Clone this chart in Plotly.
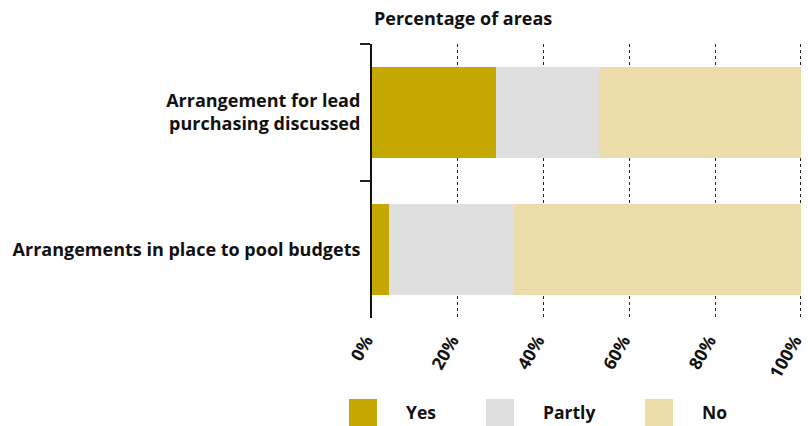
import plotly.graph_objects as go

# Survey items (top to bottom) and share of areas answering each way
categories = ["Arrangement for lead<br>purchasing discussed",
              "Arrangements in place to pool budgets"]
series_names = ["Yes", "Partly", "No"]
yes_vals = [29, 4]
partly_vals = [24, 29]
no_vals = [47, 67]
x_tick_vals = [0, 20, 40, 60, 80, 100]
x_tick_text = ["0%", "20%", "40%", "60%", "80%", "100%"]

colors = {"Yes": "#C4A800", "Partly": "#DFDFDF", "No": "#EBDCA9"}
FONT = "Open Sans"
W, H = 808, 426
ML, MR, MT, MB = 372, 5, 44, 108
PW, PH = W - ML - MR, H - MT - MB

fig = go.Figure()
for name, vals in zip(series_names, [yes_vals, partly_vals, no_vals]):
    fig.add_trace(go.Bar(
        y=categories, x=vals, name=name, orientation="h",
        marker=dict(color=colors[name], line=dict(width=0)),
        showlegend=False, hoverinfo="x+name",
    ))

fig.update_layout(
    width=W, height=H,
    margin=dict(l=ML, r=MR, t=MT, b=MB, autoexpand=False),
    paper_bgcolor="white", plot_bgcolor="white",
    barmode="stack", bargap=0.33,
    font=dict(family=FONT, size=18, color="#111111"),
)

fig.update_xaxes(
    range=[0, 100.5], tickvals=x_tick_vals, ticktext=x_tick_text,
    tickangle=-60, ticklabeloverflow="allow", automargin=False,
    ticklabelshift=-6, ticklabelstandoff=8,
    tickfont=dict(family=FONT, size=17.5, weight="bold", color="#111111"),
    showgrid=True, gridcolor="#222222", gridwidth=1.3, griddash="3px,3px",
    zeroline=False, showline=False, ticks="",
)
fig.update_yaxes(
    categoryorder="array", categoryarray=categories, autorange="reversed",
    tickson="boundaries", ticks="outside", ticklen=10, tickwidth=1.5, tickcolor="#222222",
    showline=True, linecolor="#111111", linewidth=2, automargin=False,
    showgrid=False, zeroline=False, ticklabelstandoff=6,
    tickfont=dict(family=FONT, size=18, weight="bold", color="#111111"),
)

# Axis caption above the plot
fig.add_annotation(
    text="Percentage of areas", xref="paper", yref="paper",
    x=0.0, y=1.0, yshift=26, xanchor="left", yanchor="middle", showarrow=False,
    font=dict(family=FONT, size=18, weight="bold", color="#111111"),
)

# Legend built from large swatches below the axis
legend_x = [349, 486, 645]
for name, lx in zip(series_names, legend_x):
    fig.add_shape(type="rect", xref="paper", yref="paper",
                  x0=(lx - ML) / PW, x1=(lx + 28 - ML) / PW,
                  y0=-(399 - (H - MB)) / PH, y1=-(428 - (H - MB)) / PH,
                  fillcolor=colors[name], line=dict(width=0))
    fig.add_annotation(text=name, xref="paper", yref="paper",
                       x=(lx + 55 - ML) / PW, y=-(412 - (H - MB)) / PH,
                       xanchor="left", yanchor="middle", showarrow=False,
                       font=dict(family=FONT, size=17.5, weight="bold", color="#111111"))

fig.write_html("out.html")
